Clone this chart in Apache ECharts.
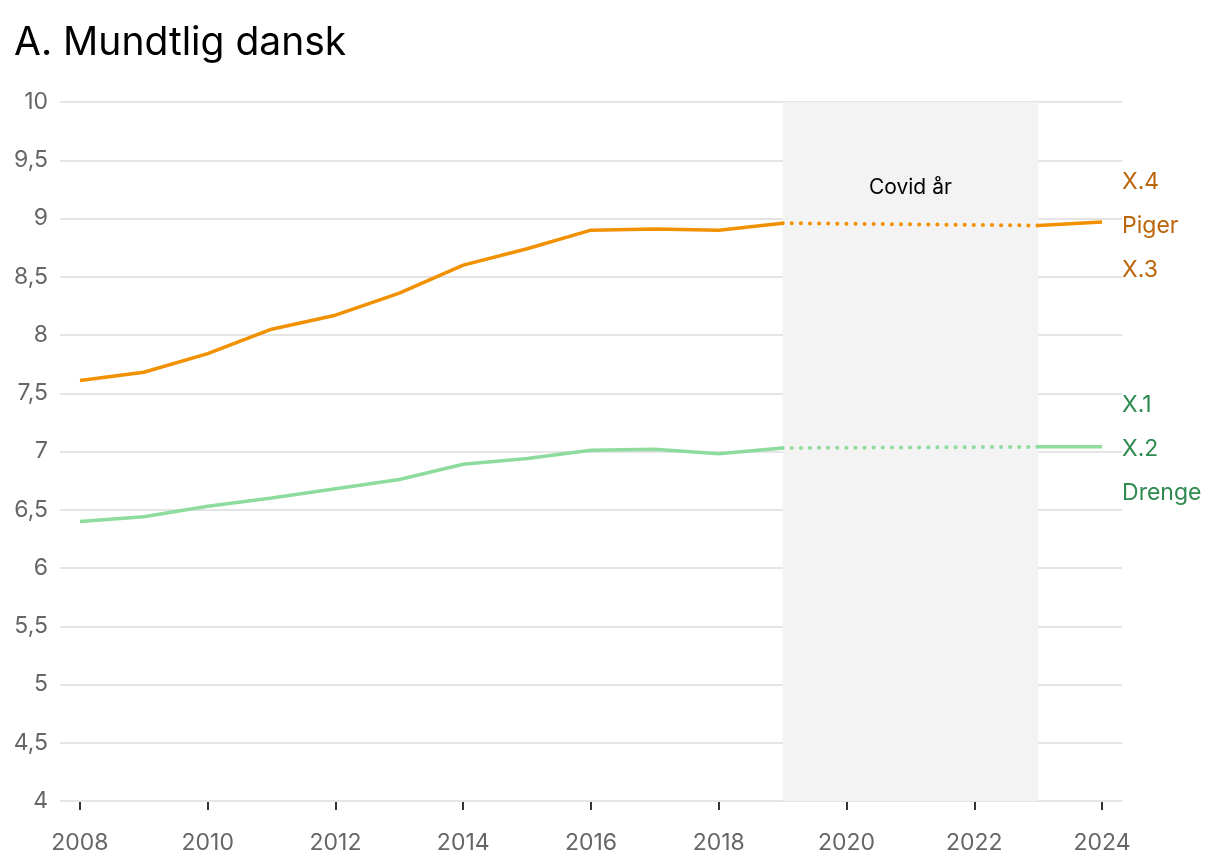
<!DOCTYPE html>
<html><head><meta charset="utf-8">
<script src="https://cdn.jsdelivr.net/npm/echarts@6/dist/echarts.min.js"></script>
<style>html,body{margin:0;padding:0;background:#fff}#c{width:1220px;height:868px}</style>
</head><body><div id="c"></div>
<script>
const years = [2008,2009,2010,2011,2012,2013,2014,2015,2016,2017,2018,2019,2020,2021,2022,2023,2024];
const piger = [7.61,7.68,7.84,8.05,8.17,8.36,8.60,8.74,8.90,8.91,8.90,8.96,null,null,null,8.94,8.97];
const drenge = [6.40,6.44,6.53,6.60,6.68,6.76,6.89,6.94,7.01,7.02,6.98,7.03,null,null,null,7.04,7.04];
const covidStart = 2019, covidEnd = 2023;
const xTicks = [2008,2010,2012,2014,2016,2018,2020,2022,2024];
const pigerLabels = ['X.4','Piger','X.3'];
const drengeLabels = ['X.1','X.2','Drenge'];
const title = 'A. Mundtlig dansk';
const covidLabel = 'Covid år';

const FONT = 'Inter, "Liberation Sans", sans-serif';
const ORANGE = '#f29100', GREEN = '#8edc9d';
const ORANGE_T = '#bb650b', GREEN_T = '#2e8a4f';

function solid(vals){ return years.map((y,i)=>[y, vals[i]===null?'-':vals[i]]); }
function dotted(vals){
  const i0 = years.indexOf(covidStart), i1 = years.indexOf(covidEnd);
  return [[covidStart, vals[i0]],[covidEnd, vals[i1]]];
}

const chart = echarts.init(document.getElementById('c'));
chart.setOption({
  animation:false,
  title:{text:title,left:9,top:19,textStyle:{fontFamily:FONT,fontSize:39,fontWeight:'normal',color:'#000'}},
  grid:{left:60,right:98,top:102,bottom:67},
  xAxis:{type:'value',min:2007.6875,max:2024.3125,
    axisLine:{show:false},splitLine:{show:false},
    axisTick:{show:true,length:9,lineStyle:{color:'#333',width:2},customValues:xTicks},
    axisLabel:{customValues:xTicks,color:'#666',fontFamily:FONT,fontSize:23,margin:31,formatter:v=>String(v)}},
  yAxis:{type:'value',min:4,max:10,interval:0.5,z:1,
    axisLine:{show:false},axisTick:{show:false},
    splitLine:{lineStyle:{color:'#e4e4e4',width:2}},
    axisLabel:{color:'#666',fontFamily:FONT,fontSize:23,margin:12,formatter:v=>String(v).replace('.',',')}},
  series:[
    {type:'line',z:0,data:[],silent:true,
      markArea:{silent:true,itemStyle:{color:'#f3f3f3'},
        label:{show:true,position:'insideTop',distance:75,color:'#000',fontFamily:FONT,fontSize:21,formatter:covidLabel},
        data:[[{xAxis:covidStart},{xAxis:covidEnd}]]}},
    {type:'line',z:2,data:solid(piger),showSymbol:false,connectNulls:false,
      lineStyle:{color:ORANGE,width:3.5},
      endLabel:{show:true,distance:20,offset:[0,4],color:ORANGE_T,fontFamily:FONT,fontSize:23,lineHeight:44,align:'left',verticalAlign:'middle',
        formatter:()=>pigerLabels.join('\n')}},
    {type:'line',z:2,data:dotted(piger),showSymbol:false,
      lineStyle:{color:ORANGE,width:4,type:[0.1,9],cap:'round'}},
    {type:'line',z:2,data:solid(drenge),showSymbol:false,connectNulls:false,
      lineStyle:{color:GREEN,width:3.5},
      endLabel:{show:true,distance:20,offset:[0,2],color:GREEN_T,fontFamily:FONT,fontSize:23,lineHeight:44,align:'left',verticalAlign:'middle',
        formatter:()=>drengeLabels.join('\n')}},
    {type:'line',z:2,data:dotted(drenge),showSymbol:false,
      lineStyle:{color:GREEN,width:4,type:[0.1,9],cap:'round'}}
  ]
});
</script></body></html>
